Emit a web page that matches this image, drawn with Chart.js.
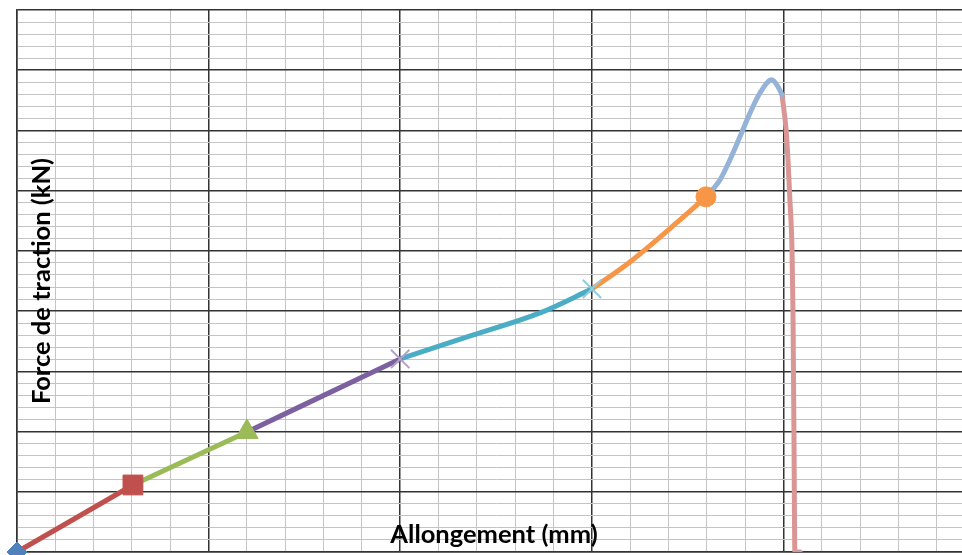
<!DOCTYPE html>
<html lang="fr">
<head>
  <meta charset="UTF-8" />
  <title>Force de traction / Allongement</title>
  <script src="https://cdn.jsdelivr.net/npm/chart.js"></script>
  <style>
    html, body { margin: 0; padding: 0; background: #fff; overflow: hidden; }
    #wrap { width: 962px; height: 555px; overflow: hidden; }
  </style>
</head>
<body>
  <div id="wrap">
    <canvas id="essai" width="976" height="555"></canvas>
  </div>

  <script>
    // courbe de l'essai de traction, découpée en segments (comme dans Excel)
    const xTitle = "Allongement (mm)";
    const yTitle = "Force de traction (kN)";

    const originX = [0];
    const originY = [0];

    const redX = [0, 0.605];
    const redY = [0, 1.113];

    const greenX = [0.605, 1.2];
    const greenY = [1.113, 1.993];

    const purpleX = [1.2, 2.0];
    const purpleY = [1.993, 3.206];

    const tealX = [2.0, 2.365, 2.730, 3.001];
    const tealY = [3.206, 3.588, 3.970, 4.369];

    const orangeX = [3.001, 3.199, 3.460, 3.596];
    const orangeY = [4.369, 4.817, 5.515, 5.897];

    const lightBlueX = [3.596, 3.669, 3.721, 3.773, 3.826, 3.878, 3.940, 3.972, 3.993];
    const lightBlueY = [5.897, 6.179, 6.512, 6.894, 7.292, 7.625, 7.841, 7.724, 7.591];

    const pinkX = [3.993, 4.014, 4.024, 4.034, 4.045, 4.050, 4.055, 4.060, 4.087];
    const pinkY = [7.591, 7.010, 6.512, 5.847, 5.017, 4.0, 2.0, 0, 0];

    const xMin = 0, xMax = 5, yMin = 0, yMax = 9;

    const pts = (xs, ys) => xs.map((x, i) => ({ x: x, y: ys[i] }));

    // marqueur seulement sur le dernier point du segment
    function segment(xs, ys, color, marker, radius, markerColor) {
      const last = xs.length - 1;
      return {
        data: pts(xs, ys),
        showLine: true,
        borderColor: color,
        borderWidth: 5,
        borderCapStyle: "round",
        tension: 0.4,
        cubicInterpolationMode: "monotone",
        pointStyle: marker || "circle",
        pointRadius: ctx => (marker && ctx.dataIndex === last) ? radius : 0,
        pointHoverRadius: 0,
        pointBackgroundColor: markerColor || color,
        pointBorderColor: markerColor || color,
        pointBorderWidth: (marker === "crossRot") ? 2 : 1
      };
    }

    const isMajor = v => Math.abs(v - Math.round(v)) < 1e-6;

    const titlesPlugin = {
      id: "titles",
      afterDraw(chart) {
        const c = chart.ctx;
        c.save();
        c.fillStyle = "#000";
        c.font = "bold 25.5px Lato, 'Liberation Sans', sans-serif";
        c.textAlign = "center";
        c.textBaseline = "alphabetic";
        c.fillText(xTitle, 494, 543);
        c.translate(50, 281);
        c.rotate(-Math.PI / 2);
        c.fillText(yTitle, 0, 0);
        c.restore();
      }
    };

    const diamond = {
      data: pts(originX, originY),
      showLine: false,
      pointStyle: "rectRot",
      pointRadius: 10,
      pointBackgroundColor: "#4F81BD",
      pointBorderColor: "#4F81BD",
      clip: false
    };

    const gridOpts = {
      drawTicks: false,
      color: ctx => isMajor(ctx.tick.value) ? "#333333" : "#c4c4c4",
      lineWidth: ctx => isMajor(ctx.tick.value) ? 1.5 : 1
    };

    new Chart(document.getElementById("essai"), {
      type: "scatter",
      data: {
        datasets: [
          diamond,
          segment(redX, redY, "#C0504D", "rect", 14),
          segment(greenX, greenY, "#9BBB59", "triangle", 13),
          segment(purpleX, purpleY, "#7D60A0", "crossRot", 13, "#B3A2C7"),
          segment(tealX, tealY, "#4BACC6", "crossRot", 13, "#93CDDD"),
          segment(orangeX, orangeY, "#F79646", "circle", 10),
          segment(lightBlueX, lightBlueY, "#95B3D7"),
          segment(pinkX, pinkY, "#D99694")
        ]
      },
      options: {
        responsive: false,
        animation: false,
        layout: { autoPadding: false, padding: { left: 17, top: 10, right: 1, bottom: 3 } },
        plugins: { legend: { display: false }, tooltip: { enabled: false } },
        scales: {
          x: {
            type: "linear",
            min: xMin,
            max: xMax,
            ticks: { display: false, stepSize: 0.2, padding: 0 },
            grid: gridOpts,
            border: { color: "#333333", width: 1.5 },
            afterFit: s => { s.height = 0; }
          },
          y: {
            type: "linear",
            min: yMin,
            max: yMax,
            ticks: { display: false, stepSize: 0.2, padding: 0 },
            grid: gridOpts,
            border: { color: "#333333", width: 1.5 },
            afterFit: s => { s.width = 0; }
          }
        }
      },
      plugins: [titlesPlugin]
    });
  </script>
</body>
</html>
